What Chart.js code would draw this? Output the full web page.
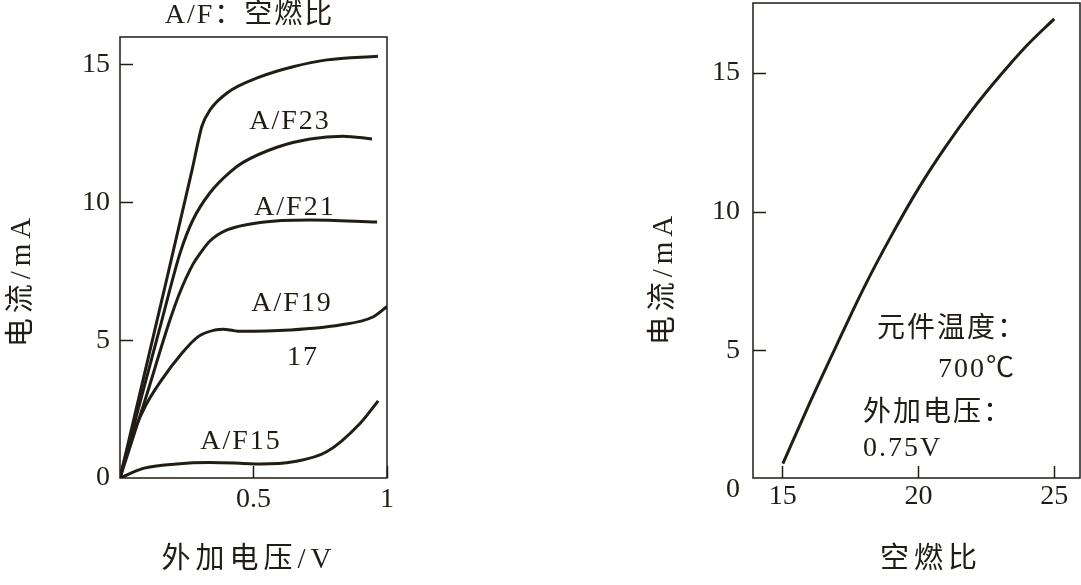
<!DOCTYPE html>
<html>
<head>
<meta charset="utf-8">
<script src="https://cdn.jsdelivr.net/npm/chart.js@4.4.1/dist/chart.umd.min.js"></script>
<style>
  html, body { margin: 0; padding: 0; background: #fff; }
  #wrap { position: relative; width: 1081px; height: 585px; }
  .panel { position: absolute; top: 0; height: 585px; }
  #left { left: 0; width: 540px; }
  #right { left: 540px; width: 541px; }
</style>
</head>
<body>
<div id="wrap">
  <div class="panel" id="left"><canvas id="ivChart"></canvas></div>
  <div class="panel" id="right"><canvas id="afChart"></canvas></div>
</div>
<script>
// left panel: current vs applied voltage, one curve per air/fuel ratio
const af23V = [0, 0.139, 0.270, 0.294, 0.307, 0.337, 0.401, 0.524, 0.648, 0.775, 0.966];
const af23I = [0, 5.73, 11.18, 12.26, 12.77, 13.35, 13.97, 14.55, 14.92, 15.17, 15.30];
const af21V = [0, 0.157, 0.225, 0.273, 0.337, 0.412, 0.461, 0.588, 0.712, 0.835, 0.944];
const af21I = [0, 5.73, 8.16, 9.36, 10.35, 11.10, 11.45, 12.00, 12.30, 12.40, 12.30];
const af19V = [0, 0.094, 0.187, 0.225, 0.273, 0.300, 0.337, 0.401, 0.524, 0.712, 0.963];
const af19I = [0, 2.83, 5.73, 6.75, 7.75, 8.15, 8.60, 9.00, 9.27, 9.36, 9.29];
const af17V = [0, 0.031, 0.094, 0.156, 0.231, 0.293, 0.356, 0.387, 0.424, 0.449, 0.637, 0.824, 0.949, 1.0];
const af17I = [0, 1.14, 2.59, 3.56, 4.52, 5.13, 5.37, 5.40, 5.35, 5.32, 5.37, 5.55, 5.85, 6.22];
const af15V = [0, 0.087, 0.212, 0.337, 0.462, 0.524, 0.649, 0.774, 0.899, 0.967];
const af15I = [0, 0.35, 0.51, 0.56, 0.53, 0.51, 0.59, 0.95, 1.98, 2.80];

const voltTicks = [0.5, 1];
const currentTicks = [0, 5, 10, 15];

// right panel: current vs air/fuel ratio at 700°C, 0.75 V
const ratio = [15, 16, 17, 18, 19, 20, 21, 22, 23, 24, 25];
const ratioCurrent = [0.95, 3.15, 5.25, 7.3, 9.15, 10.85, 12.35, 13.7, 14.9, 16.0, 16.95];
const ratioTicks = [15, 20, 25];

const ink = '#211d16';
const serif = '"Liberation Serif", "Noto Sans CJK SC", serif';

const toPoints = (xs, ys) => xs.map((x, i) => ({x, y: ys[i]}));

const curve = (label, xs, ys) => ({
  label,
  data: toPoints(xs, ys),
  borderColor: ink,
  borderWidth: 3,
  pointRadius: 0,
  fill: false,
  cubicInterpolationMode: 'monotone',
});

// frame round the plot area, free text, axis titles
const textPlugin = {
  id: 'texts',
  afterDraw(chart, args, opts) {
    const {ctx, chartArea, scales: {x, y}} = chart;
    ctx.save();
    ctx.strokeStyle = ink;
    ctx.lineWidth = 1.5;
    ctx.strokeRect(chartArea.left, chartArea.top, chartArea.right - chartArea.left, chartArea.bottom - chartArea.top);

    ctx.fillStyle = ink;
    ctx.textBaseline = 'middle';
    ctx.letterSpacing = '2px';
    ctx.font = '28px ' + serif;
    (opts.notes || []).forEach(n => {
      ctx.textAlign = n.align || 'center';
      ctx.fillText(n.text, x.getPixelForValue(n.x), y.getPixelForValue(n.y));
    });

    ctx.letterSpacing = '5px';
    ctx.font = '29px ' + serif;
    ctx.textAlign = 'center';
    const xt = opts.xTitle;
    ctx.fillText(xt.text, xt.cx, xt.cy);
    const yt = opts.yTitle;
    ctx.translate(yt.cx, yt.cy);
    ctx.rotate(-Math.PI / 2);
    ctx.fillText(yt.text, 0, 0);
    ctx.restore();
  }
};

const tickFont = {family: serif, size: 28};

function makeOptions(cfg) {
  return {
    responsive: true,
    maintainAspectRatio: false,
    animation: false,
    devicePixelRatio: 1,
    layout: {padding: cfg.padding},
    plugins: {
      legend: {display: false},
      tooltip: {enabled: false},
      texts: cfg.texts,
    },
    scales: {
      x: {
        type: 'linear',
        min: cfg.xMin,
        max: cfg.xMax,
        afterBuildTicks: axis => { axis.ticks = cfg.xTicks.map(v => ({value: v})); },
        afterFit: axis => {
          axis.height = 107;
          axis.paddingLeft = 0;
          axis.paddingRight = 0;
        },
        border: {display: false},
        grid: {drawOnChartArea: false, drawTicks: true, tickLength: -12, tickWidth: 1.5, tickColor: ink},
        ticks: {
          autoSkip: false, maxRotation: 0, color: ink, font: tickFont, padding: cfg.xPad,
          callback: v => String(v),
        },
      },
      y: {
        type: 'linear',
        min: cfg.yMin,
        max: cfg.yMax,
        afterBuildTicks: axis => { axis.ticks = currentTicks.map(v => ({value: v})); },
        afterFit: axis => {
          axis.width = cfg.yWidth;
          axis.paddingTop = 0;
          axis.paddingBottom = 0;
        },
        border: {display: false},
        grid: {
          drawOnChartArea: false, drawTicks: true, tickLength: -13, tickWidth: 1.5,
          tickColor: c => (c.tick && c.tick.value === 0 ? 'rgba(0,0,0,0)' : ink),
        },
        ticks: {autoSkip: false, color: ink, font: tickFont, padding: cfg.yPad, callback: v => String(v)},
      },
    },
  };
}

new Chart(document.getElementById('ivChart'), {
  type: 'line',
  data: {
    datasets: [
      curve('A/F23', af23V, af23I),
      curve('A/F21', af21V, af21I),
      curve('A/F19', af19V, af19I),
      curve('A/F17', af17V, af17I),
      curve('A/F15', af15V, af15I),
    ],
  },
  options: makeOptions({
    padding: {left: 0, top: 37, right: 153, bottom: 0},
    xMin: 0, xMax: 1, xTicks: voltTicks, xPad: 17,
    yMin: 0, yMax: 16, yWidth: 120, yPad: 23,
    texts: {
      notes: [
        {text: 'A/F：空燃比', x: 0.485, y: 16.76},
        {text: 'A/F23', x: 0.637, y: 12.92},
        {text: 'A/F21', x: 0.655, y: 9.80},
        {text: 'A/F19', x: 0.644, y: 6.31},
        {text: '17', x: 0.685, y: 4.35},
        {text: 'A/F15', x: 0.453, y: 1.31},
      ],
      xTitle: {text: '外加电压/V', cx: 249, cy: 560},
      yTitle: {text: '电流/mA', cx: 22, cy: 280},
    },
  }),
  plugins: [textPlugin],
});

new Chart(document.getElementById('afChart'), {
  type: 'line',
  data: {
    datasets: [curve('电流', ratio, ratioCurrent)],
  },
  options: makeOptions({
    padding: {left: 0, top: 3, right: 1, bottom: 0},
    xMin: 13.9, xMax: 25.95, xTicks: ratioTicks, xPad: 14,
    yMin: 0.43, yMax: 17.52, yWidth: 213, yPad: 26,
    texts: {
      notes: [
        {text: '元件温度：', x: 18.47, y: 5.76, align: 'left'},
        {text: '700℃', x: 20.72, y: 4.32, align: 'left'},
        {text: '外加电压：', x: 17.95, y: 2.73, align: 'left'},
        {text: '0.75V', x: 17.95, y: 1.47, align: 'left'},
      ],
      xTitle: {text: '空燃比', cx: 391, cy: 560},
      yTitle: {text: '电流/mA', cx: 124, cy: 278},
    },
  }),
  plugins: [textPlugin],
});
</script>
</body>
</html>
